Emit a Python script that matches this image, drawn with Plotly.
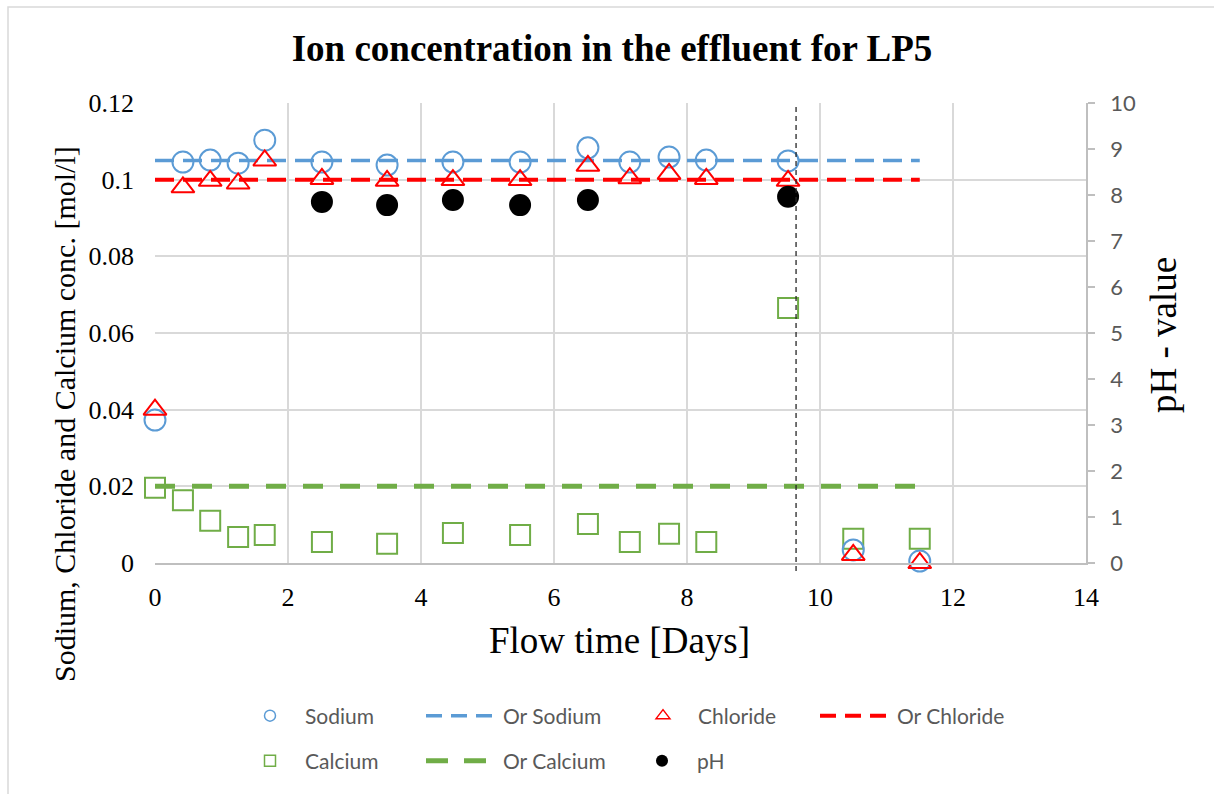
import plotly.graph_objects as go

# ---------------- data ----------------
time_days = [0, 0.42, 0.83, 1.25, 1.65, 2.51, 3.49, 4.48, 5.49, 6.51, 7.14, 7.73, 8.29, 9.52, 10.5, 11.5]
sodium = [0.0373, 0.1046, 0.1051, 0.1043, 0.1103, 0.1046, 0.1038, 0.1046, 0.1046, 0.1083, 0.1046, 0.1059, 0.1051, 0.1049, 0.0034, 0.0005]
chloride = [0.0400, 0.0980, 0.0997, 0.0990, 0.1050, 0.1002, 0.0997, 0.0999, 0.0999, 0.1036, 0.1004, 0.1015, 0.1002, 0.0997, 0.0021, 0.0000]
calcium = [0.0196, 0.0164, 0.0110, 0.0068, 0.0073, 0.0055, 0.0050, 0.0078, 0.0073, 0.0102, 0.0055, 0.0076, 0.0055, 0.0665, 0.0063, 0.0063]
or_sodium = [0.105] * len(time_days)
or_chloride = [0.1] * len(time_days)
or_calcium = [0.02] * len(time_days)
ph_time = [2.51, 3.49, 4.48, 5.49, 6.51, 9.52]
ph_values = [7.85, 7.78, 7.89, 7.78, 7.89, 7.96]
marker_line_x = 9.64

x_ticks = [0, 2, 4, 6, 8, 10, 12, 14]

BLUE = "#5b9bd5"
RED = "#ff0000"
GREEN = "#70ad47"
SERIF = "Liberation Serif"
SANS = "Lato"

# plot-area geometry (px)
L, R, T, B = 155, 128, 103, 231
W, H = 1214, 794
PW, PH = W - L - R, H - T - B


def px2x(px):
    return (px - L) / PW


def px2y(py):
    return (H - B - py) / PH


fig = go.Figure()

# ---- data traces (legend shown by separate legend-only traces) ----
fig.add_trace(go.Scatter(x=time_days, y=or_sodium, mode="lines",
                         line=dict(color=BLUE, width=3.5, dash="19px,9px"),
                         showlegend=False, hoverinfo="skip"))
fig.add_trace(go.Scatter(x=time_days, y=or_chloride, mode="lines",
                         line=dict(color=RED, width=4, dash="19px,9px"),
                         showlegend=False, hoverinfo="skip"))
fig.add_trace(go.Scatter(x=time_days, y=or_calcium, mode="lines",
                         line=dict(color=GREEN, width=5, dash="20px,17px"),
                         showlegend=False, hoverinfo="skip"))
fig.add_trace(go.Scatter(x=time_days, y=calcium, mode="markers", cliponaxis=False,
                         marker=dict(symbol="square-open", size=20, color=GREEN,
                                     line=dict(width=2, color=GREEN)),
                         showlegend=False))
fig.add_trace(go.Scatter(x=time_days, y=sodium, mode="markers", cliponaxis=False,
                         marker=dict(symbol="circle-open", size=21, color=BLUE,
                                     line=dict(width=2, color=BLUE)),
                         showlegend=False))
fig.add_trace(go.Scatter(x=time_days, y=chloride, mode="markers", cliponaxis=False,
                         marker=dict(symbol="triangle-up-open", size=20, color=RED,
                                     line=dict(width=2, color=RED)),
                         showlegend=False))
fig.add_trace(go.Scatter(x=ph_time, y=ph_values, mode="markers", yaxis="y2", cliponaxis=False,
                         marker=dict(symbol="circle", size=22, color="black"),
                         showlegend=False))

# ---- legend-only traces, one legend each for exact placement ----
leg_items = [
    ("Sodium", dict(mode="markers", marker=dict(symbol="circle-open", size=11, color=BLUE, line=dict(width=1.5, color=BLUE))), 265, 716, False),
    ("Or Sodium", dict(mode="lines", line=dict(color=BLUE, width=3.5, dash="16px,9px")), 426, 716, True),
    ("Chloride", dict(mode="markers", marker=dict(symbol="triangle-up-open", size=12, color=RED, line=dict(width=1.5, color=RED))), 658, 716, False),
    ("Or Chloride", dict(mode="lines", line=dict(color=RED, width=4, dash="16px,9px")), 820, 716, True),
    ("Calcium", dict(mode="markers", marker=dict(symbol="square-open", size=11, color=GREEN, line=dict(width=1.5, color=GREEN))), 265, 761, False),
    ("Or Calcium", dict(mode="lines", line=dict(color=GREEN, width=5, dash="22px,16px")), 426, 761, True),
    ("pH", dict(mode="markers", marker=dict(symbol="circle", size=12, color="black")), 657, 761, False),
]

layout_legends = {}
for i, (name, style, sx, sy, is_line) in enumerate(leg_items):
    lid = "legend" if i == 0 else f"legend{i + 1}"
    fig.add_trace(go.Scatter(x=[None], y=[None], name=name, legend=lid, showlegend=True, **style))
    itemw = 72 if is_line else 60
    start = sx - 5 if is_line else sx - itemw / 2
    layout_legends[lid] = dict(
        x=px2x(start), y=px2y(sy), xanchor="left", yanchor="middle",
        orientation="h", itemwidth=itemw, bgcolor="rgba(0,0,0,0)",
        borderwidth=0, font=dict(family=SANS, size=21, color="#595959"),
        itemclick=False, itemdoubleclick=False,
    )

fig.update_layout(
    width=W, height=H,
    margin=dict(l=L, r=R, t=T, b=B, pad=0),
    paper_bgcolor="white", plot_bgcolor="white",
    title=dict(text="<b>Ion concentration in the effluent for LP5</b>",
               x=px2x(612), xref="paper", xanchor="center",
               y=1 - 48 / H, yanchor="middle",
               font=dict(family=SERIF, size=37, color="black")),
    xaxis=dict(range=[0, 14], tickvals=x_ticks, showgrid=True, gridcolor="#d9d9d9", gridwidth=1.5,
               zeroline=False, showline=True, linecolor="#bfbfbf", linewidth=1.5,
               ticks="", ticklabelstandoff=10,
               tickfont=dict(family=SERIF, size=26, color="black"), automargin=False),
    yaxis=dict(range=[0, 0.12], dtick=0.02, showgrid=True, gridcolor="#d9d9d9", gridwidth=1.5,
               zeroline=False, showline=False, ticks="", ticklabelstandoff=20,
               tickfont=dict(family=SERIF, size=26, color="black"), automargin=False),
    yaxis2=dict(range=[0, 10], dtick=1, overlaying="y", side="right", showgrid=False,
                zeroline=False, showline=True, linecolor="#bfbfbf", linewidth=1.5,
                ticks="outside", ticklen=7, tickcolor="#bfbfbf", tickwidth=1.5,
                ticklabelstandoff=11,
                tickfont=dict(family=SANS, size=22, color="#595959"), automargin=False),
    annotations=[
        dict(text="Flow time [Days]", xref="paper", yref="paper", x=px2x(619), y=px2y(640),
             xanchor="center", yanchor="middle", showarrow=False,
             font=dict(family=SERIF, size=37, color="black")),
        dict(text="Sodium, Chloride and Calcium conc. [mol/l]", xref="paper", yref="paper",
             x=px2x(64), y=px2y(414), textangle=-90, xanchor="center", yanchor="middle",
             showarrow=False, font=dict(family=SERIF, size=30, color="black")),
        dict(text="pH - value", xref="paper", yref="paper", x=px2x(1163), y=px2y(335),
             textangle=-90, xanchor="center", yanchor="middle", showarrow=False,
             font=dict(family=SERIF, size=37, color="black")),
    ],
    shapes=[
        dict(type="line", xref="x", yref="paper", x0=marker_line_x, x1=marker_line_x,
             y0=px2y(571), y1=1, line=dict(color="#262626", width=1.3, dash="5px,4px")),
        dict(type="rect", xref="paper", yref="paper", x0=px2x(8), y0=px2y(820),
             x1=px2x(1230), y1=px2y(7), line=dict(color="#d9d9d9", width=1.5), layer="below"),
    ],
    **layout_legends,
)

fig.write_html("out.html")
